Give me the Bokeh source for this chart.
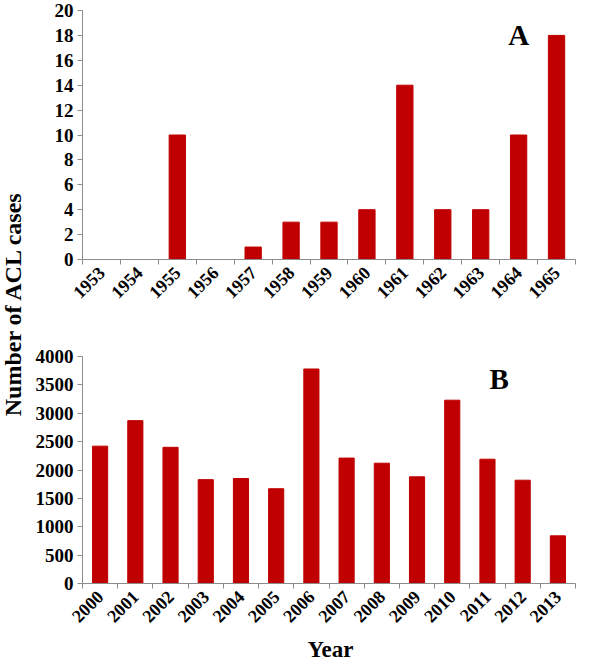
import numpy as np
from bokeh.plotting import figure
from bokeh.layouts import row, column
from bokeh.models import Range1d, FixedTicker, Label, ColumnDataSource, Title
from bokeh.embed import file_html
from bokeh.resources import INLINE

# ---- data ----
years_a = ["1953", "1954", "1955", "1956", "1957", "1958", "1959",
           "1960", "1961", "1962", "1963", "1964", "1965"]
cases_a = [0, 0, 10, 0, 1, 3, 3, 4, 14, 4, 4, 10, 18]
yticks_a = [0, 2, 4, 6, 8, 10, 12, 14, 16, 18, 20]

years_b = ["2000", "2001", "2002", "2003", "2004", "2005", "2006",
           "2007", "2008", "2009", "2010", "2011", "2012", "2013"]
cases_b = [2420, 2870, 2400, 1830, 1850, 1670, 3780,
           2210, 2120, 1880, 3230, 2190, 1820, 840]
yticks_b = [0, 500, 1000, 1500, 2000, 2500, 3000, 3500, 4000]

FONT = "Liberation Serif"
BAR = "#C00000"
AXIS = "#8C8C8C"


def panel(years, cases, yticks, width, height, bl, br, bt, bb):
    n = len(years)
    pos = np.arange(n) + 0.5
    src = ColumnDataSource(dict(x=pos, top=cases, year=years))
    p = figure(width=width, height=height,
               x_range=Range1d(0, n), y_range=Range1d(yticks[0], yticks[-1]),
               output_backend="svg", toolbar_location=None,
               min_border_left=bl, min_border_right=br,
               min_border_top=bt, min_border_bottom=bb)
    p.vbar(x="x", top="top", width=0.43, source=src,
           fill_color=BAR, line_color=BAR)
    p.outline_line_color = None
    p.grid.visible = False

    xa = p.xaxis[0]
    xa.ticker = FixedTicker(ticks=[float(v) for v in pos],
                            minor_ticks=[float(v) for v in range(n + 1)])
    xa.major_label_overrides = {float(v): y for v, y in zip(pos, years)}
    xa.major_label_orientation = np.pi / 4
    xa.major_tick_line_color = None
    xa.minor_tick_line_color = AXIS
    xa.minor_tick_in = 0
    xa.minor_tick_out = 5
    xa.axis_line_color = AXIS
    xa.major_label_text_font = FONT
    xa.major_label_text_font_style = "bold"
    xa.major_label_text_font_size = "18px"
    xa.major_label_text_color = "black"
    xa.major_label_standoff = 4

    ya = p.yaxis[0]
    ya.ticker = FixedTicker(ticks=yticks)
    ya.minor_tick_line_color = None
    ya.major_tick_line_color = AXIS
    ya.major_tick_in = 0
    ya.major_tick_out = 5
    ya.axis_line_color = AXIS
    ya.major_label_text_font = FONT
    ya.major_label_text_font_style = "bold"
    ya.major_label_text_font_size = "19px"
    ya.major_label_text_color = "black"
    ya.major_label_standoff = 4
    return p


pa = panel(years_a, cases_a, yticks_a, 570, 330, 51, 25, 10, 71)
pa.add_layout(Label(x=11.5, y=18.0, text="A", text_align="center",
                    text_baseline="middle", text_font=FONT,
                    text_font_style="bold", text_font_size="29px",
                    text_color="black"))

pb = panel(years_b, cases_b, yticks_b, 570, 334, 52, 1, 26, 81)
pb.add_layout(Label(x=11.83, y=3612, text="B", text_align="center",
                    text_baseline="middle", text_font=FONT,
                    text_font_style="bold", text_font_size="29px",
                    text_color="black"))
pb.add_layout(Title(text="Year", align="left", offset=225, standoff=6,
                    text_font=FONT, text_font_style="bold",
                    text_font_size="23px", text_color="black"), "below")

pt = figure(width=30, height=664, x_range=Range1d(0, 1), y_range=Range1d(0, 1),
            x_axis_type=None, y_axis_type=None, min_border=0,
            output_backend="svg", toolbar_location=None)
pt.outline_line_color = None
pt.grid.visible = False
pt.add_layout(Label(x=0.4, y=0.544, text="Number of ACL cases",
                    angle=np.pi / 2, text_align="center",
                    text_baseline="middle", text_font=FONT,
                    text_font_style="bold", text_font_size="24px",
                    text_color="black"))

layout = row(pt, column(pa, pb))

with open("out.html", "w") as f:
    f.write(file_html(layout, INLINE))
